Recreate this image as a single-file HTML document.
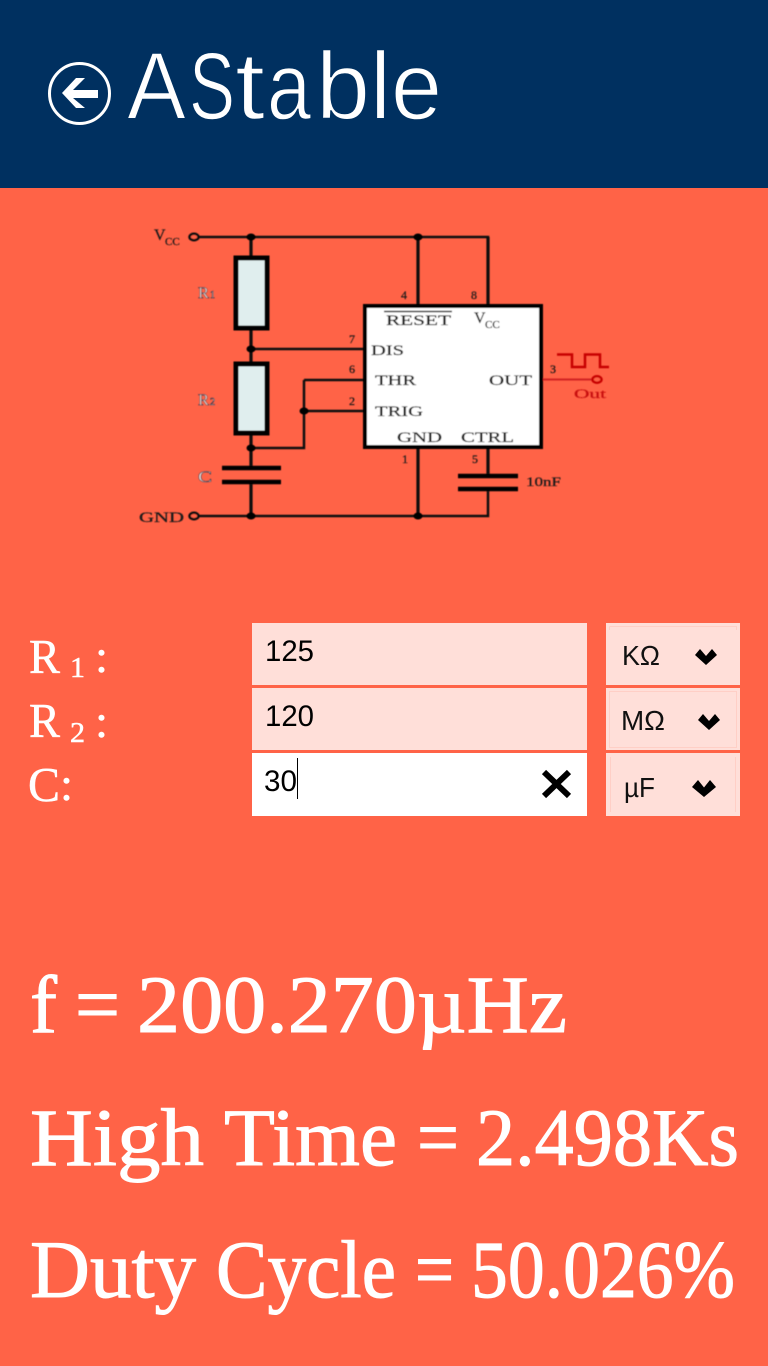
<!DOCTYPE html>
<html><head><meta charset="utf-8"><title>AStable</title>
<style>
html,body{margin:0;padding:0;background:#ff6347}
svg{display:block}
.sa{font-family:"Liberation Sans",sans-serif}
.se{font-family:"Liberation Serif",serif}
</style></head><body>
<svg xmlns="http://www.w3.org/2000/svg" width="768" height="1366" viewBox="0 0 768 1366">
<defs><filter id="b" x="-5%" y="-5%" width="110%" height="110%"><feGaussianBlur stdDeviation="0.45"/></filter></defs>
<rect width="768" height="1366" fill="#ff6347"/>
<rect width="768" height="188" fill="#003060"/>
<!-- back -->
<circle cx="79.500" cy="93.500" r="30" fill="none" stroke="#fff" stroke-width="3"/>
<path d="M62 93 L76 78 H85 L73 90 H98 V98 H73 L85 108 H76 Z" fill="#fff"/>
<g class="sa" font-size="96" fill="#fff" stroke="#003060" stroke-width="1.500">
<text x="127" y="119" textLength="59" lengthAdjust="spacingAndGlyphs">A</text>
<text x="189" y="119" textLength="46" lengthAdjust="spacingAndGlyphs">S</text>
<text x="235" y="119" textLength="30" lengthAdjust="spacingAndGlyphs">t</text>
<text x="267" y="119" textLength="44" lengthAdjust="spacingAndGlyphs">a</text>
<text x="316" y="119" textLength="54" lengthAdjust="spacingAndGlyphs">b</text>
<text x="370" y="119" textLength="21" lengthAdjust="spacingAndGlyphs">l</text>
<text x="391" y="119" textLength="51" lengthAdjust="spacingAndGlyphs">e</text>
</g>

<!-- circuit -->
<g filter="url(#b)">
<g fill="none" stroke="#111" stroke-width="2.500">
<path d="M198 237H488V305"/>
<path stroke-width="3.200" d="M251 237V256M251 330V362M251 435V468M251 482V516"/>
<path d="M198 516H488V489M251 349H364M304 380H364M304 411H364M251 448H304V380"/>
<path stroke-width="3.200" d="M418 237V305M418 449V516M488 237V305M488 449V476"/>
</g>
<rect x="236" y="258" width="31" height="70" fill="#e0eeee" stroke="#000" stroke-width="5"/>
<rect x="236" y="364" width="31" height="69" fill="#e0eeee" stroke="#000" stroke-width="5"/>
<rect x="365" y="306" width="176" height="141" fill="#fff" stroke="#000" stroke-width="4"/>
<path d="M222 468H281M222 482H281M458 476H518M458 489H518" stroke="#000" stroke-width="4.500" fill="none"/>
<g fill="#000">
<ellipse cx="251" cy="237" rx="4.500" ry="3.500"/><ellipse cx="251" cy="349" rx="4.500" ry="3.500"/><ellipse cx="251" cy="448" rx="4.500" ry="3.500"/>
<ellipse cx="251" cy="516" rx="4.500" ry="3.500"/><ellipse cx="304" cy="411" rx="4.500" ry="3.500"/><ellipse cx="418" cy="237" rx="4.500" ry="3.500"/><ellipse cx="418" cy="516" rx="4.500" ry="3.500"/>
</g>
<ellipse cx="194" cy="237" rx="4.500" ry="3.200" fill="#ff6347" stroke="#111" stroke-width="2.500"/>
<ellipse cx="194" cy="516" rx="4.500" ry="3.200" fill="#ff6347" stroke="#111" stroke-width="2.500"/>
<path d="M543 379.500H592" stroke="#d02020" stroke-width="2" fill="none"/>
<ellipse cx="597" cy="379.500" rx="4.500" ry="3.200" fill="#ff6347" stroke="#c80000" stroke-width="2.500"/>
<path d="M557 354.500H572V367H585V354.500H600V367H609" fill="none" stroke="#c80000" stroke-width="2.500"/>
<path d="M384 311.500H452" stroke="#333" stroke-width="1.500"/>
<g class="se" fill="#1a1a1a" font-size="15" stroke="#1a1a1a" stroke-width=".25">
<text x="154" y="240" font-size="16">V</text><text x="165" y="245" font-size="11">CC</text>
<g fill="#f4e4e0" stroke="#3a3a50" stroke-width=".55">
<text x="198" y="298" font-size="16" textLength="11" lengthAdjust="spacingAndGlyphs">R</text><text x="210" y="298" font-size="10">1</text>
<text x="198" y="405" font-size="16" textLength="11" lengthAdjust="spacingAndGlyphs">R</text><text x="210" y="405" font-size="10">2</text>
<text x="198" y="482" font-size="16" textLength="14" lengthAdjust="spacingAndGlyphs">C</text>
</g>
<text x="139" y="522" font-size="15" textLength="45" lengthAdjust="spacingAndGlyphs">GND</text>
<text x="349" y="343" font-size="12">7</text><text x="349" y="373" font-size="12">6</text><text x="349" y="405" font-size="12">2</text>
<text x="401" y="299" font-size="12">4</text><text x="471" y="299" font-size="12">8</text>
<text x="402" y="463" font-size="12">1</text><text x="472" y="463" font-size="12">5</text>
<text x="550" y="373" font-size="12">3</text>
<text x="386" y="325" font-size="15" textLength="65" lengthAdjust="spacingAndGlyphs">RESET</text>
<text x="474" y="323" font-size="16">V</text><text x="485" y="328" font-size="11">CC</text>
<text x="371" y="355" font-size="15" textLength="33" lengthAdjust="spacingAndGlyphs">DIS</text>
<text x="375" y="385" font-size="15" textLength="41" lengthAdjust="spacingAndGlyphs">THR</text>
<text x="375" y="416" font-size="15" textLength="48" lengthAdjust="spacingAndGlyphs">TRIG</text>
<text x="489" y="385" font-size="15" textLength="43" lengthAdjust="spacingAndGlyphs">OUT</text>
<text x="397" y="442" font-size="15" textLength="45" lengthAdjust="spacingAndGlyphs">GND</text>
<text x="461" y="442" font-size="15" textLength="53" lengthAdjust="spacingAndGlyphs">CTRL</text>
<text x="526" y="486" font-size="13" textLength="35" lengthAdjust="spacingAndGlyphs">10nF</text>
<text x="574" y="398" font-size="13" fill="#c81010" stroke="#c81010" textLength="32" lengthAdjust="spacingAndGlyphs">Out</text>
</g>
</g>

<!-- labels -->
<g class="se" fill="#fff" font-size="49" stroke="#fff" stroke-width=".5">
<text x="29" y="673" textLength="31" lengthAdjust="spacingAndGlyphs">R</text>
<text x="70" y="677" font-size="29" textLength="15" lengthAdjust="spacingAndGlyphs">1</text>
<text x="95" y="672" font-size="47">:</text>
<text x="29" y="737" textLength="31" lengthAdjust="spacingAndGlyphs">R</text>
<text x="70" y="742" font-size="29" textLength="15" lengthAdjust="spacingAndGlyphs">2</text>
<text x="95" y="737" font-size="47">:</text>
<text x="28" y="801" textLength="32" lengthAdjust="spacingAndGlyphs">C</text>
<text x="60" y="800" font-size="47">:</text>
</g>

<!-- fields -->
<rect x="252" y="623" width="335" height="62" fill="#ffdfd9"/>
<rect x="252" y="688" width="335" height="62" fill="#ffdfd9"/>
<rect x="252" y="753" width="335" height="63" fill="#fff"/>
<g class="sa" fill="#000" font-size="30">
<text x="265" y="661" textLength="49" lengthAdjust="spacingAndGlyphs">125</text>
<text x="265" y="726" textLength="49" lengthAdjust="spacingAndGlyphs">120</text>
<text x="264" y="791" textLength="33" lengthAdjust="spacingAndGlyphs">30</text>
</g>
<rect x="297" y="758" width="1" height="41" fill="#000"/>
<path d="M544 772L569 796M569 772L544 796" stroke="#000" stroke-width="6" fill="none"/>

<!-- dropdowns -->
<rect x="606" y="623" width="134" height="62" fill="#ffdfd9"/>
<rect x="606" y="688" width="134" height="62" fill="#ffdfd9"/>
<rect x="606" y="753" width="134" height="63" fill="#ffdfd9"/>
<g fill="none" stroke="#ffcfc6" stroke-width="1">
<path d="M609.500 626.500H737M609.500 626.500V630M736.500 626.500V630"/>
<rect x="609.500" y="691.500" width="127" height="56"/>
<path d="M610.500 757V812M735.500 757V812"/>
</g>
<g class="sa" fill="#111" font-size="28">
<text x="622" y="665" textLength="38" lengthAdjust="spacingAndGlyphs">KΩ</text>
<text x="621" y="730" textLength="44" lengthAdjust="spacingAndGlyphs">MΩ</text>
<text x="624" y="797" textLength="31" lengthAdjust="spacingAndGlyphs">µF</text>
</g>
<g fill="#000">
<polygon points="695,655 700,649 706,656 712,649 717,655 706,665"/>
<polygon points="698,720 703,714 709,721 715,714 720,720 709,730"/>
<polygon points="692,787 698,780 704,787.500 710,780 716,787 704,797"/>
</g>

<!-- results -->
<g class="se" fill="#fff" font-size="82" stroke="#fff" stroke-width="1">
<text x="30" y="1032" textLength="27" lengthAdjust="spacingAndGlyphs">f</text>
<text x="75" y="1032" textLength="45" lengthAdjust="spacingAndGlyphs">=</text>
<text x="137" y="1032" textLength="430" lengthAdjust="spacingAndGlyphs">200.270µHz</text>
<text x="30" y="1165" textLength="174" lengthAdjust="spacingAndGlyphs">High</text>
<text x="224" y="1165" textLength="173" lengthAdjust="spacingAndGlyphs">Time</text>
<text x="417" y="1165" textLength="42" lengthAdjust="spacingAndGlyphs">=</text>
<text x="476" y="1165" textLength="263" lengthAdjust="spacingAndGlyphs">2.498Ks</text>
<text x="30" y="1297" textLength="166" lengthAdjust="spacingAndGlyphs">Duty</text>
<text x="216" y="1297" textLength="180" lengthAdjust="spacingAndGlyphs">Cycle</text>
<text x="415" y="1297" textLength="39" lengthAdjust="spacingAndGlyphs">=</text>
<text x="471" y="1297" textLength="264" lengthAdjust="spacingAndGlyphs">50.026%</text>
</g>
</svg>
</body></html>
